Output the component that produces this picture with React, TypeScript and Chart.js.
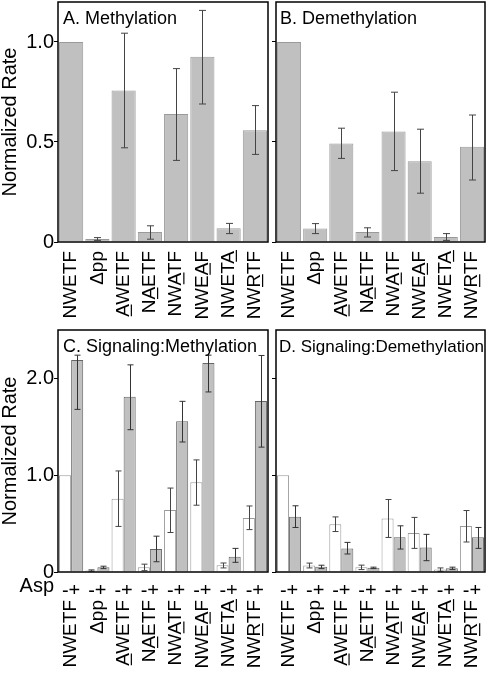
import React, { useEffect, useRef } from 'react';
import { Chart, registerables } from 'chart.js';

Chart.register(...registerables);

const FONT = '"Liberation Sans", Arial, Helvetica, sans-serif';

// ---- data ----
const categories = ['NWETF', 'Δpp', 'AWETF', 'NAETF', 'NWATF', 'NWEAF', 'NWETA', 'NWRTF'];
const underlineIndex = [-1, -1, 0, 1, 2, 3, 4, 2];
const aspLabels = ['-+', '-+', '-+', '-+', '-+', '-+', '-+', '-+'];

const methylation = [1.0, 0.015, 0.757, 0.05, 0.64, 0.926, 0.069, 0.559];
const methylationLow = [null, 0.008, 0.471, 0.014, 0.408, 0.69, 0.042, 0.438];
const methylationHigh = [null, 0.022, 1.044, 0.081, 0.867, 1.158, 0.093, 0.682];

const demethylation = [1.0, 0.067, 0.493, 0.05, 0.552, 0.404, 0.025, 0.476];
const demethylationLow = [null, 0.042, 0.418, 0.025, 0.357, 0.244, 0.008, 0.31];
const demethylationHigh = [null, 0.092, 0.569, 0.071, 0.749, 0.564, 0.042, 0.635];

const sigMethPlus = [2.19, 0.048, 1.81, 0.237, 1.557, 2.16, 0.158, 1.766];
const sigMethPlusLow = [1.68, 0.035, 1.47, 0.106, 1.343, 1.86, 0.1, 1.29];
const sigMethPlusHigh = [2.24, 0.06, 2.14, 0.37, 1.763, 2.24, 0.244, 2.237];

const sigDemethPlus = [0.57, 0.055, 0.244, 0.045, 0.358, 0.254, 0.038, 0.358];
const sigDemethPlusLow = [0.46, 0.035, 0.186, 0.035, 0.237, 0.117, 0.025, 0.244];
const sigDemethPlusHigh = [0.684, 0.07, 0.306, 0.05, 0.477, 0.389, 0.05, 0.46];

const ticksTop = [0, 0.5, 1.0];
const ticksBottom = [0, 1.0, 2.0];
const maxTop = 1.2;
const maxBottom = 2.5;

const titles = ['A. Methylation', 'B. Demethylation', 'C. Signaling:Methylation', 'D. Signaling:Demethylation'];

// ---- plugins ----
const framePlugin = {
  id: 'frame',
  afterDraw(chart: any, _args: any, opts: any) {
    const { ctx, chartArea: a } = chart;
    ctx.save();
    ctx.strokeStyle = '#000';
    ctx.lineWidth = 1.5;
    ctx.strokeRect(a.left, a.top, a.right - a.left, a.bottom - a.top);
    ctx.fillStyle = '#000';
    ctx.font = `${opts.titleSize || 18}px ${FONT}`;
    ctx.textAlign = 'left';
    ctx.textBaseline = 'alphabetic';
    if (opts.title) ctx.fillText(opts.title, a.left + (opts.titleInset || 5), a.top + 22);
    if (opts.asp) {
      ctx.font = `20px ${FONT}`;
      ctx.textAlign = 'right';
      ctx.fillText(opts.asp, a.left - 4, a.bottom + 20);
    }
    ctx.restore();
  },
};

const errorBarPlugin = {
  id: 'errbars',
  afterDatasetsDraw(chart: any) {
    const { ctx } = chart;
    const yScale = chart.scales.y;
    ctx.save();
    chart.data.datasets.forEach((ds: any, i: number) => {
      if (!ds.errLow) return;
      const meta = chart.getDatasetMeta(i);
      meta.data.forEach((bar: any, j: number) => {
        const lo = ds.errLow[j];
        const hi = ds.errHigh[j];
        if (lo == null || hi == null) return;
        const x = Math.round(bar.x) + 0.5;
        const y1 = yScale.getPixelForValue(lo);
        const y2 = yScale.getPixelForValue(hi);
        const cap = ds.capHalf || 3.5;
        ctx.strokeStyle = ds.errColor || '#444';
        ctx.lineWidth = 1;
        ctx.beginPath();
        ctx.moveTo(x, y1);
        ctx.lineTo(x, y2);
        ctx.moveTo(x - cap, y1);
        ctx.lineTo(x + cap, y1);
        ctx.moveTo(x - cap, y2);
        ctx.lineTo(x + cap, y2);
        ctx.stroke();
      });
    });
    ctx.restore();
  },
};

const underlinePlugin = {
  id: 'underline',
  afterDraw(chart: any, _args: any, opts: any) {
    const scale = chart.scales[opts.scaleId];
    if (!scale) return;
    const ctx = chart.ctx;
    const fs = opts.fontSize;
    ctx.save();
    ctx.font = `${fs}px ${FONT}`;
    ctx.textBaseline = 'middle';
    const desc = ctx.measureText('E').actualBoundingBoxDescent || fs * 0.35;
    ctx.strokeStyle = '#000';
    ctx.lineWidth = 1.2;
    categories.forEach((label, i) => {
      const k = underlineIndex[i];
      if (k < 0) return;
      const px = scale.getPixelForTick(i);
      const y = scale.top + opts.padding;
      const W = ctx.measureText(label).width;
      const s = ctx.measureText(label.slice(0, k)).width;
      const cw = ctx.measureText(label[k]).width;
      const ux = px + desc + 2.5;
      ctx.beginPath();
      ctx.moveTo(ux, y + W - s - 0.5);
      ctx.lineTo(ux, y + W - s - cw + 0.5);
      ctx.stroke();
    });
    ctx.restore();
  },
};

Chart.register(framePlugin, errorBarPlugin, underlinePlugin);

function zeroPad(axis: any) {
  axis.paddingTop = 0;
  axis.paddingBottom = 0;
  axis.paddingLeft = 0;
  axis.paddingRight = 0;
}

function yAxis(max: number, tickVals: number[], showLabels: boolean, width: number) {
  return {
    type: 'linear',
    min: 0,
    max,
    afterBuildTicks: (axis: any) => {
      axis.ticks = tickVals.map((v) => ({ value: v }));
    },
    afterFit: (axis: any) => {
      axis.width = width;
      zeroPad(axis);
    },
    ticks: {
      display: showLabels,
      padding: 0,
      color: '#000',
      font: { size: 20, family: FONT },
      callback: (v: any) => (v === 0 ? '0' : Number(v).toFixed(1)),
    },
    grid: { display: true, drawOnChartArea: false, drawTicks: true, tickLength: 4, color: '#000', lineWidth: 1 },
    border: { display: false },
    title: {
      display: showLabels,
      text: 'Normalized Rate',
      color: '#000',
      padding: 0,
      font: { size: 20, family: FONT, lineHeight: 1 },
    },
  };
}

function baseOptions(padTop: number) {
  return {
    animation: false,
    responsive: false,
    maintainAspectRatio: false,
    devicePixelRatio: 1,
    layout: { padding: { top: padTop, right: 2, left: 0, bottom: 0 } },
  };
}

function topConfig(values: number[], low: any[], high: any[], title: string, showY: boolean, yWidth: number, inset: number) {
  return {
    type: 'bar',
    data: {
      labels: categories,
      datasets: [
        {
          data: values,
          errLow: low,
          errHigh: high,
          backgroundColor: '#c0c0c0',
          borderColor: '#9a9a9a',
          borderWidth: 1,
          barPercentage: 0.92,
          categoryPercentage: 1.0,
          capHalf: 3.5,
        },
      ],
    },
    options: {
      ...baseOptions(2),
      plugins: {
        legend: { display: false },
        tooltip: { enabled: false },
        frame: { title, titleInset: inset, titleSize: 18 },
        underline: { scaleId: 'x', fontSize: 19, padding: 9 },
      },
      scales: {
        x: {
          type: 'category',
          afterFit: (axis: any) => {
            axis.height = 88;
            zeroPad(axis);
          },
          ticks: {
            autoSkip: false,
            minRotation: 90,
            maxRotation: 90,
            padding: 9,
            color: '#000',
            font: { size: 19, family: FONT },
          },
          grid: { display: false, drawTicks: false },
          border: { display: false },
        },
        y: yAxis(maxTop, ticksTop, showY, yWidth),
      },
    },
  };
}

function bottomConfig(
  minus: number[], minusLow: any[], minusHigh: any[],
  plus: number[], plusLow: any[], plusHigh: any[],
  title: string, showY: boolean, yWidth: number, inset: number, tsize: number
) {
  return {
    type: 'bar',
    data: {
      labels: categories,
      datasets: [
        {
          data: minus,
          errLow: minusLow,
          errHigh: minusHigh,
          backgroundColor: '#ffffff',
          borderColor: '#9a9a9a',
          borderWidth: 1,
          barPercentage: 1.0,
          categoryPercentage: 0.92,
          capHalf: 3,
        },
        {
          data: plus,
          errLow: plusLow,
          errHigh: plusHigh,
          backgroundColor: '#c0c0c0',
          borderColor: '#666666',
          borderWidth: 1,
          barPercentage: 1.0,
          categoryPercentage: 0.92,
          capHalf: 3,
          errColor: '#333',
        },
      ],
    },
    options: {
      ...baseOptions(4),
      plugins: {
        legend: { display: false },
        tooltip: { enabled: false },
        frame: { title, asp: showY ? 'Asp' : '', titleInset: inset, titleSize: tsize },
        underline: { scaleId: 'x2', fontSize: 19, padding: 6 },
      },
      scales: {
        x: {
          type: 'category',
          weight: 0,
          afterFit: (axis: any) => {
            axis.height = 22;
            zeroPad(axis);
          },
          ticks: {
            autoSkip: false,
            minRotation: 0,
            maxRotation: 0,
            padding: 7,
            color: '#000',
            font: { size: 20, family: FONT },
            callback: (_v: any, i: number) => aspLabels[i],
          },
          grid: { display: false, drawTicks: false },
          border: { display: false },
        },
        x2: {
          type: 'category',
          position: 'bottom',
          weight: 1,
          labels: categories,
          afterFit: (axis: any) => {
            axis.height = 79;
            zeroPad(axis);
          },
          ticks: {
            autoSkip: false,
            minRotation: 90,
            maxRotation: 90,
            padding: 6,
            color: '#000',
            font: { size: 19, family: FONT },
          },
          grid: { display: false, drawTicks: false },
          border: { display: false },
        },
        y: yAxis(maxBottom, ticksBottom, showY, yWidth),
      },
    },
  };
}

const panels = [
  { left: 0, top: 0, w: 270, h: 330 },
  { left: 266, top: 0, w: 221, h: 330 },
  { left: 0, top: 326, w: 270, h: 347 },
  { left: 266, top: 326, w: 221, h: 347 },
];

export default function App() {
  const refs = [useRef<HTMLCanvasElement>(null), useRef<HTMLCanvasElement>(null), useRef<HTMLCanvasElement>(null), useRef<HTMLCanvasElement>(null)];

  useEffect(() => {
    Chart.defaults.font.family = FONT;
    const configs: any[] = [
      topConfig(methylation, methylationLow, methylationHigh, titles[0], true, 58, 5),
      topConfig(demethylation, demethylationLow, demethylationHigh, titles[1], false, 10, 4),
      bottomConfig(methylation, methylationLow, methylationHigh, sigMethPlus, sigMethPlusLow, sigMethPlusHigh, titles[2], true, 58, 5, 18),
      bottomConfig(demethylation, demethylationLow, demethylationHigh, sigDemethPlus, sigDemethPlusLow, sigDemethPlusHigh, titles[3], false, 10, 3, 17),
    ];
    const charts = configs.map((cfg, i) => new Chart(refs[i].current as HTMLCanvasElement, cfg));
    return () => charts.forEach((c) => c.destroy());
  }, []);

  return (
    <div style={{ position: 'absolute', left: 0, top: 0, width: 487, height: 673, background: '#fff', overflow: 'hidden' }}>
      {panels.map((p, i) => (
        <canvas
          key={i}
          ref={refs[i]}
          width={p.w}
          height={p.h}
          style={{ position: 'absolute', left: p.left, top: p.top, width: p.w, height: p.h }}
        />
      ))}
    </div>
  );
}
